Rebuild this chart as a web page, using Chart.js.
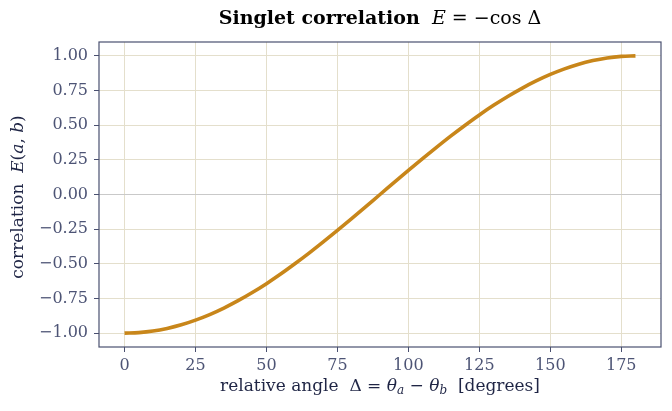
<!DOCTYPE html>
<html><head><meta charset="utf-8">
<script src="https://cdn.jsdelivr.net/npm/chart.js@4.4.1/dist/chart.umd.min.js"></script>
<style>html,body{margin:0;padding:0;background:#fff;}#wrap{width:672px;height:411px;}</style>
</head><body><div id="wrap"><canvas id="c" width="672" height="411"></canvas></div>
<script>
const angles = [0,5,10,15,20,25,30,35,40,45,50,55,60,65,70,75,80,85,90,95,100,105,110,115,120,125,130,135,140,145,150,155,160,165,170,175,180];
const correlation = [-1.000,-0.996,-0.985,-0.966,-0.940,-0.906,-0.866,-0.819,-0.766,-0.707,-0.643,-0.574,-0.500,-0.423,-0.342,-0.259,-0.174,-0.087,0.000,0.087,0.174,0.259,0.342,0.423,0.500,0.574,0.643,0.707,0.766,0.819,0.866,0.906,0.940,0.966,0.985,0.996,1.000];
const xTicks = [0,25,50,75,100,125,150,175];
const yTicks = [-1.00,-0.75,-0.50,-0.25,0.00,0.25,0.50,0.75,1.00];

const SERIF = '"DejaVu Serif", serif';
const TICK_COL = '#4d5475';
const FRAME_COL = '#4a5070';
const GRID_COL = '#e4dfcc';

function drawSegs(ctx, segs, cx, cy) {
  let w = 0;
  segs.forEach(s => { ctx.font = s.f; s.w = ctx.measureText(s.t).width; w += s.w; });
  let x = cx - w / 2;
  ctx.textBaseline = 'middle';
  ctx.textAlign = 'left';
  segs.forEach(s => { ctx.font = s.f; ctx.fillText(s.t, x, cy + (s.dy || 0)); x += s.w; });
}

const deco = {
  id: 'deco',
  afterDraw(chart) {
    const ctx = chart.ctx, a = chart.chartArea;
    ctx.save();
    ctx.strokeStyle = FRAME_COL; ctx.lineWidth = 1.2;
    ctx.strokeRect(a.left, a.top, a.right - a.left, a.bottom - a.top);
    const cx = (a.left + a.right) / 2;
    ctx.fillStyle = '#000';
    drawSegs(ctx, [
      {t: 'Singlet correlation', f: 'bold 19px ' + SERIF},
      {t: '  ', f: '19px ' + SERIF},
      {t: 'E', f: 'italic 19px ' + SERIF},
      {t: ' = −cos Δ', f: '19px ' + SERIF}
    ], cx, 19);
    ctx.fillStyle = '#1f2545';
    const f = '17px ' + SERIF, fi = 'italic 17px ' + SERIF, fs = 'italic 12px ' + SERIF;
    drawSegs(ctx, [
      {t: 'relative angle  Δ = ', f: f},
      {t: 'θ', f: fi}, {t: 'a', f: fs, dy: 4},
      {t: ' − ', f: f},
      {t: 'θ', f: fi}, {t: 'b', f: fs, dy: 4},
      {t: '  [degrees]', f: f}
    ], cx, 387);
    ctx.translate(19, 197);
    ctx.rotate(-Math.PI / 2);
    drawSegs(ctx, [
      {t: 'correlation  ', f: f},
      {t: 'E', f: fi}, {t: '(', f: f}, {t: 'a', f: fi}, {t: ', ', f: f}, {t: 'b', f: fi}, {t: ')', f: f}
    ], 0, 0);
    ctx.restore();
  }
};

new Chart(document.getElementById('c'), {
  type: 'line',
  data: {
    datasets: [{
      data: angles.map((x, i) => ({x: x, y: correlation[i]})),
      borderColor: '#c8861a',
      borderWidth: 3.6,
      pointRadius: 0,
      cubicInterpolationMode: 'monotone',
      fill: false
    }]
  },
  options: {
    responsive: false,
    animation: false,
    devicePixelRatio: 1,
    layout: {padding: {top: 42, right: 11, left: 0, bottom: 0}},
    plugins: {legend: {display: false}, tooltip: {enabled: false}, title: {display: false}},
    scales: {
      x: {
        type: 'linear', min: -9, max: 189,
        afterBuildTicks: s => { s.ticks = xTicks.map(v => ({value: v})); },
        afterFit: s => { s.height = 64; },
        grid: {color: GRID_COL, lineWidth: 1, tickColor: FRAME_COL, tickLength: 5, drawTicks: true},
        border: {display: false},
        ticks: {color: TICK_COL, font: {family: SERIF, size: 16}, padding: 4, maxRotation: 0,
                callback: v => String(v)}
      },
      y: {
        type: 'linear', min: -1.1, max: 1.1,
        afterBuildTicks: s => { s.ticks = yTicks.map(v => ({value: v})); },
        afterFit: s => { s.width = 99; },
        grid: {color: c => (c.tick && c.tick.value === 0) ? '#c9c9c9' : GRID_COL, lineWidth: 1,
               tickColor: FRAME_COL, tickLength: 5, drawTicks: true},
        border: {display: false},
        ticks: {color: TICK_COL, font: {family: SERIF, size: 16}, padding: 6,
                callback: v => (v < 0 ? '−' : '') + Math.abs(v).toFixed(2)}
      }
    }
  },
  plugins: [deco]
});
</script></body></html>
